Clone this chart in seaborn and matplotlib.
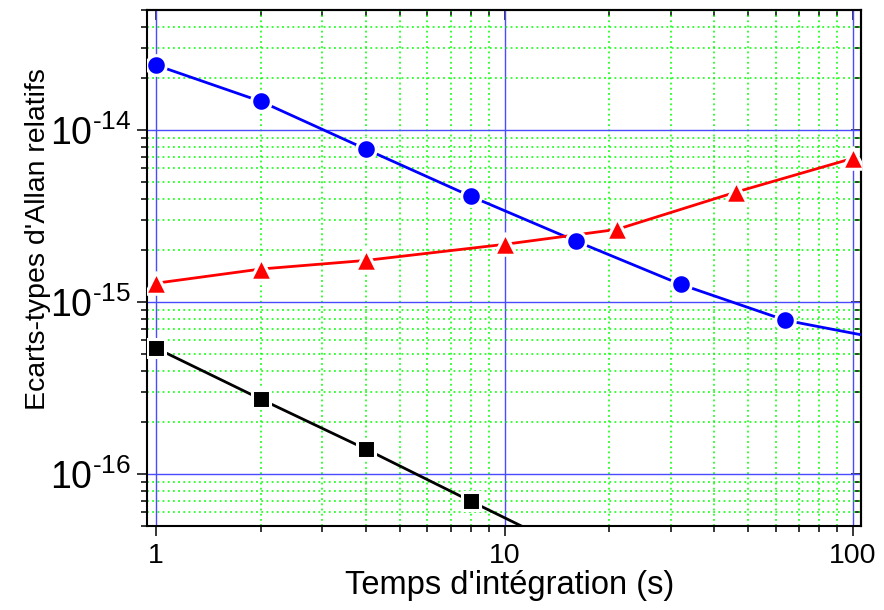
import matplotlib
matplotlib.use("Agg")
import matplotlib.pyplot as plt
import matplotlib.ticker as mticker
import seaborn as sns
import pandas as pd

# ---- data ----
tau_blue = [1, 2, 4, 8, 16, 32, 64]
adev_blue = [2.39e-14, 1.47e-14, 7.76e-15, 4.13e-15, 2.27e-15, 1.27e-15, 7.85e-16]
tau_blue_tail = [128]
adev_blue_tail = [6.0e-16]

tau_red = [1, 2, 4, 10, 21, 46, 100]
adev_red = [1.29e-15, 1.56e-15, 1.75e-15, 2.17e-15, 2.65e-15, 4.36e-15, 6.87e-15]

tau_black = [1, 2, 4, 8]
adev_black = [5.41e-16, 2.73e-16, 1.40e-16, 6.97e-17]
tau_black_tail = [16]
adev_black_tail = [3.5e-17]

x_label = "Temps d'intégration (s)"
y_label = "Ecarts-types d'Allan relatifs"
x_tick_values = [1, 10, 100]
y_tick_exponents = [-16, -15, -14]

sns.set_style("ticks")
plt.rcParams['font.family'] = ['Liberation Sans', 'DejaVu Sans']
plt.rcParams['mathtext.default'] = 'regular'
plt.rcParams['mathtext.fontset'] = 'custom'
plt.rcParams['mathtext.rm'] = 'Liberation Sans'
plt.rcParams['mathtext.it'] = 'Liberation Sans'
for k in ['text.color', 'axes.labelcolor', 'xtick.color', 'ytick.color', 'axes.edgecolor']:
    plt.rcParams[k] = 'black'

fig = plt.figure(figsize=(8.84, 6.10), dpi=100)
ax = fig.add_axes([147 / 884, 1 - 526 / 610, 714 / 884, 516 / 610])

line_blue = pd.DataFrame({"tau": tau_blue + tau_blue_tail, "adev": adev_blue + adev_blue_tail})
line_red = pd.DataFrame({"tau": tau_red, "adev": adev_red})
line_black = pd.DataFrame({"tau": tau_black + tau_black_tail, "adev": adev_black + adev_black_tail})

sns.lineplot(data=line_blue, x="tau", y="adev", color="#0000FF", lw=2.0, ax=ax, zorder=3)
sns.lineplot(data=line_red, x="tau", y="adev", color="#FF0000", lw=2.0, ax=ax, zorder=3)
sns.lineplot(data=line_black, x="tau", y="adev", color="#000000", lw=2.0, ax=ax, zorder=3)

sns.scatterplot(x=tau_blue, y=adev_blue, marker="o", s=200, color="#0000FF",
                edgecolor="white", linewidth=2.2, ax=ax, zorder=4)
sns.scatterplot(x=tau_red, y=adev_red, marker="^", s=240, color="#FF0000",
                edgecolor="white", linewidth=2.2, ax=ax, zorder=4)
sns.scatterplot(x=tau_black, y=adev_black, marker="s", s=150, color="#000000",
                edgecolor="white", linewidth=2.2, ax=ax, zorder=4)

ax.set_xscale("log")
ax.set_yscale("log")
ax.set_xlim(0.942, 105.4)
ax.set_ylim(5e-17, 5e-14)

ax.set_axisbelow(True)
ax.grid(which="minor", color="#00FF00", linestyle=(0, (1.2, 2.2)), linewidth=1.1)
ax.grid(which="major", color="#4A4AFF", linestyle="-", linewidth=1.0)

y_ticks = [10.0 ** e for e in y_tick_exponents]
y_tick_labels = ["$10^{\u2010%d}$" % (-e) for e in y_tick_exponents]

ax.xaxis.set_major_locator(mticker.FixedLocator(x_tick_values))
ax.xaxis.set_major_formatter(mticker.FuncFormatter(lambda v, _: f"{v:g}"))
ax.xaxis.set_minor_locator(mticker.LogLocator(base=10, subs=range(2, 10)))
ax.xaxis.set_minor_formatter(mticker.NullFormatter())
ax.yaxis.set_major_locator(mticker.FixedLocator(y_ticks))
ax.yaxis.set_major_formatter(mticker.FixedFormatter(y_tick_labels))
ax.yaxis.set_minor_locator(mticker.LogLocator(base=10, subs=range(2, 10), numticks=20))
ax.yaxis.set_minor_formatter(mticker.NullFormatter())

for sp in ax.spines.values():
    sp.set_linewidth(1.5)
    sp.set_color("black")
    sp.set_visible(True)

ax.tick_params(axis="both", which="major", direction="out", length=7.5, width=1.1,
               color="black", top=False, right=False)
ax.tick_params(axis="both", which="minor", direction="out", length=4, width=1.1,
               color="black", top=False, right=False)
ax.tick_params(axis="x", which="major", labelsize=20.5, pad=5, labelcolor="black")
ax.tick_params(axis="y", which="major", labelsize=27, pad=4, labelcolor="black")

secx = ax.secondary_xaxis("top")
secx.xaxis.set_major_locator(mticker.FixedLocator(x_tick_values))
secx.xaxis.set_minor_locator(mticker.LogLocator(base=10, subs=range(2, 10)))
secx.xaxis.set_major_formatter(mticker.NullFormatter())
secx.xaxis.set_minor_formatter(mticker.NullFormatter())
secx.tick_params(which="major", direction="in", length=7.5, width=1.1, color="black")
secx.tick_params(which="minor", direction="in", length=4, width=1.1, color="black")
secx.spines["top"].set_linewidth(1.5)

secy = ax.secondary_yaxis("right")
secy.yaxis.set_major_locator(mticker.FixedLocator(y_ticks))
secy.yaxis.set_minor_locator(mticker.LogLocator(base=10, subs=range(2, 10), numticks=20))
secy.yaxis.set_major_formatter(mticker.NullFormatter())
secy.yaxis.set_minor_formatter(mticker.NullFormatter())
secy.tick_params(which="major", direction="in", length=7.5, width=1.1, color="black")
secy.tick_params(which="minor", direction="in", length=4, width=1.1, color="black")
secy.spines["right"].set_linewidth(1.5)

ax.set_xlabel(x_label, fontsize=23.5, color="black")
ax.set_ylabel(y_label, fontsize=20.5, color="black")
ax.xaxis.set_label_coords(0.508, -0.085)
ax.yaxis.set_label_coords(-0.134, 0.556)

fig.savefig("out.png", dpi=100)
